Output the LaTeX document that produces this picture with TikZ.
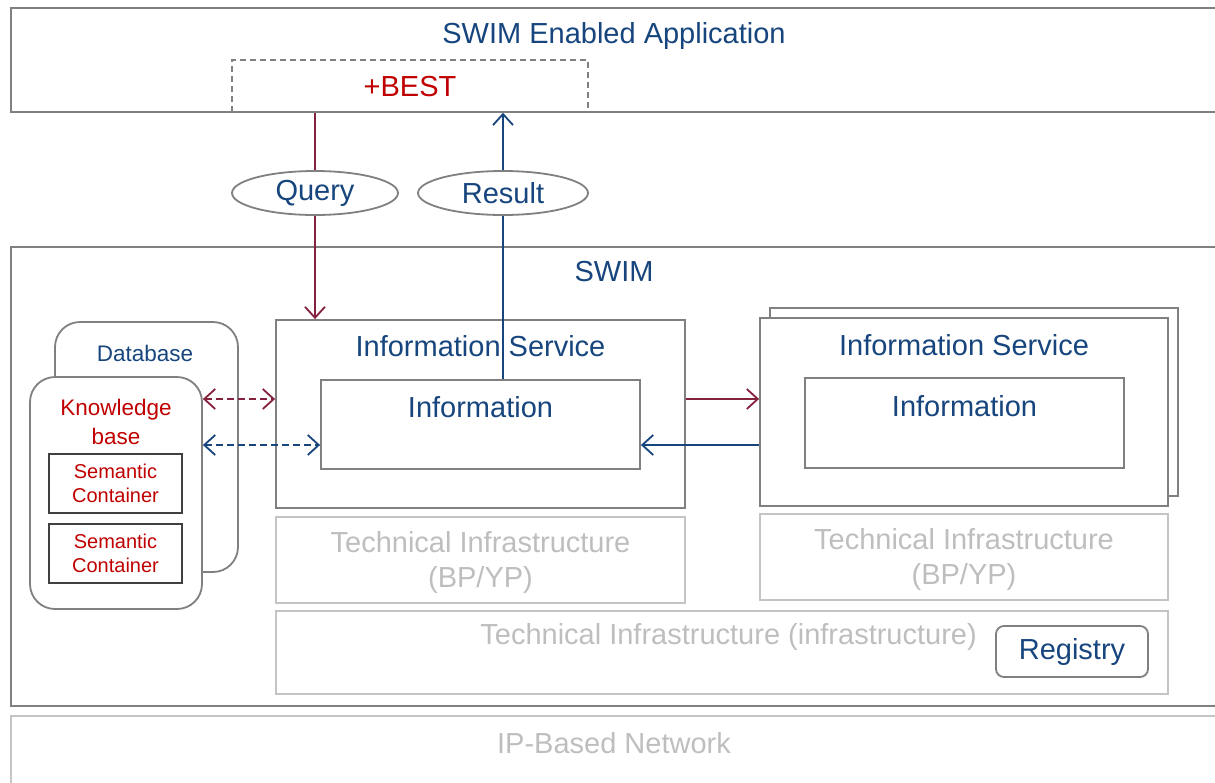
\documentclass[tikz,border=0pt]{standalone}
\usepackage{fontspec}
\setmainfont{Liberation Sans}
\usetikzlibrary{arrows.meta,positioning,shapes.geometric}
\definecolor{swimblue}{RGB}{23,69,125}
\definecolor{swimred}{RGB}{192,0,0}
\definecolor{linkred}{RGB}{132,34,62}
\definecolor{framegrey}{RGB}{128,128,128}
\definecolor{paleframe}{RGB}{196,196,196}
\definecolor{paletext}{RGB}{190,190,190}
\newcommand{\bigtxt}{\fontsize{29}{35}\selectfont}
\newcommand{\midtxt}{\fontsize{22.5}{29}\selectfont}
\newcommand{\smalltxt}{\fontsize{20}{24}\selectfont}
\tikzset{
    frame/.style={rectangle,draw=framegrey,line width=1.8pt,inner sep=0pt},
    paleframe/.style={rectangle,draw=paleframe,line width=1.8pt,inner sep=0pt},
    roundbox/.style={rectangle,rounded corners=25pt,draw=framegrey,line width=1.8pt,fill=white,inner sep=0pt},
    semcontainer/.style={rectangle,draw=black!75,line width=1.8pt,fill=white,inner sep=0pt,minimum width=133pt,minimum height=59pt,align=center,text=swimred,font=\smalltxt},
    message/.style={ellipse,draw=framegrey,line width=1.8pt,fill=white,inner sep=0pt,text=swimblue,font=\bigtxt},
    title/.style={text=swimblue,font=\bigtxt,inner sep=0pt},
    paletitle/.style={text=paletext,font=\bigtxt,inner sep=0pt,align=center},
    ask/.style={draw=linkred,line width=1.8pt,>={Straight Barb[length=11pt,width=20pt]}},
    answer/.style={draw=swimblue,line width=1.8pt,>={Straight Barb[length=11pt,width=20pt]}},
    lookup/.style={dash pattern=on 7pt off 4pt}
}

\begin{document}
\begin{tikzpicture}[x=1pt,y=-1pt]
    \useasboundingbox (0,0) rectangle (1215,782);

    % application layer
    \node[frame,minimum width=1214pt,minimum height=104pt] (app) at (618,60) {};
    \node[title] (apptitle) at (614,36) {SWIM Enabled Application};
    \node[rectangle,draw=framegrey,dash pattern=on 6pt off 4pt,line width=1.5pt,minimum width=356pt,minimum height=52pt] (best) at (410,86) {};
    \node[text=swimred,font=\bigtxt,inner sep=0pt] (besttitle) at (410,87) {+BEST};

    % SWIM layer
    \node[frame,minimum width=1214pt,minimum height=459pt] (swim) at (618,476.5) {};
    \node[title] (swimtitle) at (614,272) {SWIM};

    \node[frame,minimum width=409pt,minimum height=188pt] (svc1) at (480.5,414) {};
    \node[title] (svc1title) at (480.5,346) {Information Service};
    \node[frame,minimum width=319pt,minimum height=89pt] (info1) at (480.5,424.5) {};
    \node[title] (info1title) at (480.5,407) {Information};

    \node[frame,fill=white,minimum width=408pt,minimum height=188pt] (svc2back) at (974,402) {};
    \node[frame,fill=white,minimum width=408pt,minimum height=188pt] (svc2) at (964,412) {};
    \node[title] (svc2title) at (964,345) {Information Service};
    \node[frame,minimum width=319pt,minimum height=90pt] (info2) at (964.5,423) {};
    \node[title] (info2title) at (964.5,406) {Information};

    \node[paleframe,minimum width=409pt,minimum height=86pt] (tech1) at (480.5,560) {};
    \node[paletitle] (tech1title) at (480.5,562) {Technical Infrastructure\\(BP/YP)};
    \node[paleframe,minimum width=408pt,minimum height=86pt] (tech2) at (964,557) {};
    \node[paletitle] (tech2title) at (964,559) {Technical Infrastructure\\(BP/YP)};
    \node[paleframe,minimum width=892pt,minimum height=83pt] (infra) at (722,652.5) {};
    \node[paletitle,anchor=east] (infratitle) at (977,637) {Technical Infrastructure (infrastructure)};
    \node[frame,rounded corners=8pt,minimum width=152pt,minimum height=51pt] (registry) at (1072,651.5) {};
    \node[title] (registrytitle) at (1072,652) {Registry};

    % knowledge base
    \node[roundbox,minimum width=183pt,minimum height=250pt] (database) at (146.5,447) {};
    \node[text=swimblue,font=\midtxt,inner sep=0pt] (dbtitle) at (145,353) {Database};
    \node[roundbox,minimum width=172pt,minimum height=232pt] (kb) at (116,493) {};
    \node[text=swimred,font=\midtxt,align=center,inner sep=0pt] (kbtitle) at (116,422) {Knowledge\\base};
    \node[semcontainer] (sc1) at (115.5,483.5) {Semantic\\Container};
    \node[semcontainer] (sc2) at (115.5,553.5) {Semantic\\Container};

    % IP network
    \node[paleframe,minimum width=1214pt,minimum height=90pt] (ipnet) at (618,761) {};
    \node[paletitle] (iptitle) at (614,743) {IP-Based Network};

    % messages
    \node[message,minimum width=166pt,minimum height=44pt] (query) at (315,193) {Query};
    \node[message,minimum width=170pt,minimum height=44pt] (result) at (503,193) {Result};

    \draw[ask] (query.north |- best.south) -- (query.north);
    \draw[ask,->] (query.south) -- (query.south |- svc1.north);
    \draw[answer] (result.south |- info1.north) -- (result.south);
    \draw[answer,->] (result.north) -- (result.north |- best.south);

    \draw[ask,->] ([yshift=15pt]svc1.east) -- ([yshift=15pt]svc1.east -| svc2.west);
    \draw[answer,->] ([yshift=-31pt]svc1.east -| svc2.west) -- ([yshift=-31pt]svc1.east -| info1.east);

    \draw[ask,lookup,<->] ([yshift=94pt]kb.east) -- ([yshift=94pt]kb.east -| svc1.west);
    \draw[answer,lookup,<->] ([yshift=48pt]kb.east) -- ([yshift=48pt]kb.east -| info1.west);
\end{tikzpicture}
\end{document}
